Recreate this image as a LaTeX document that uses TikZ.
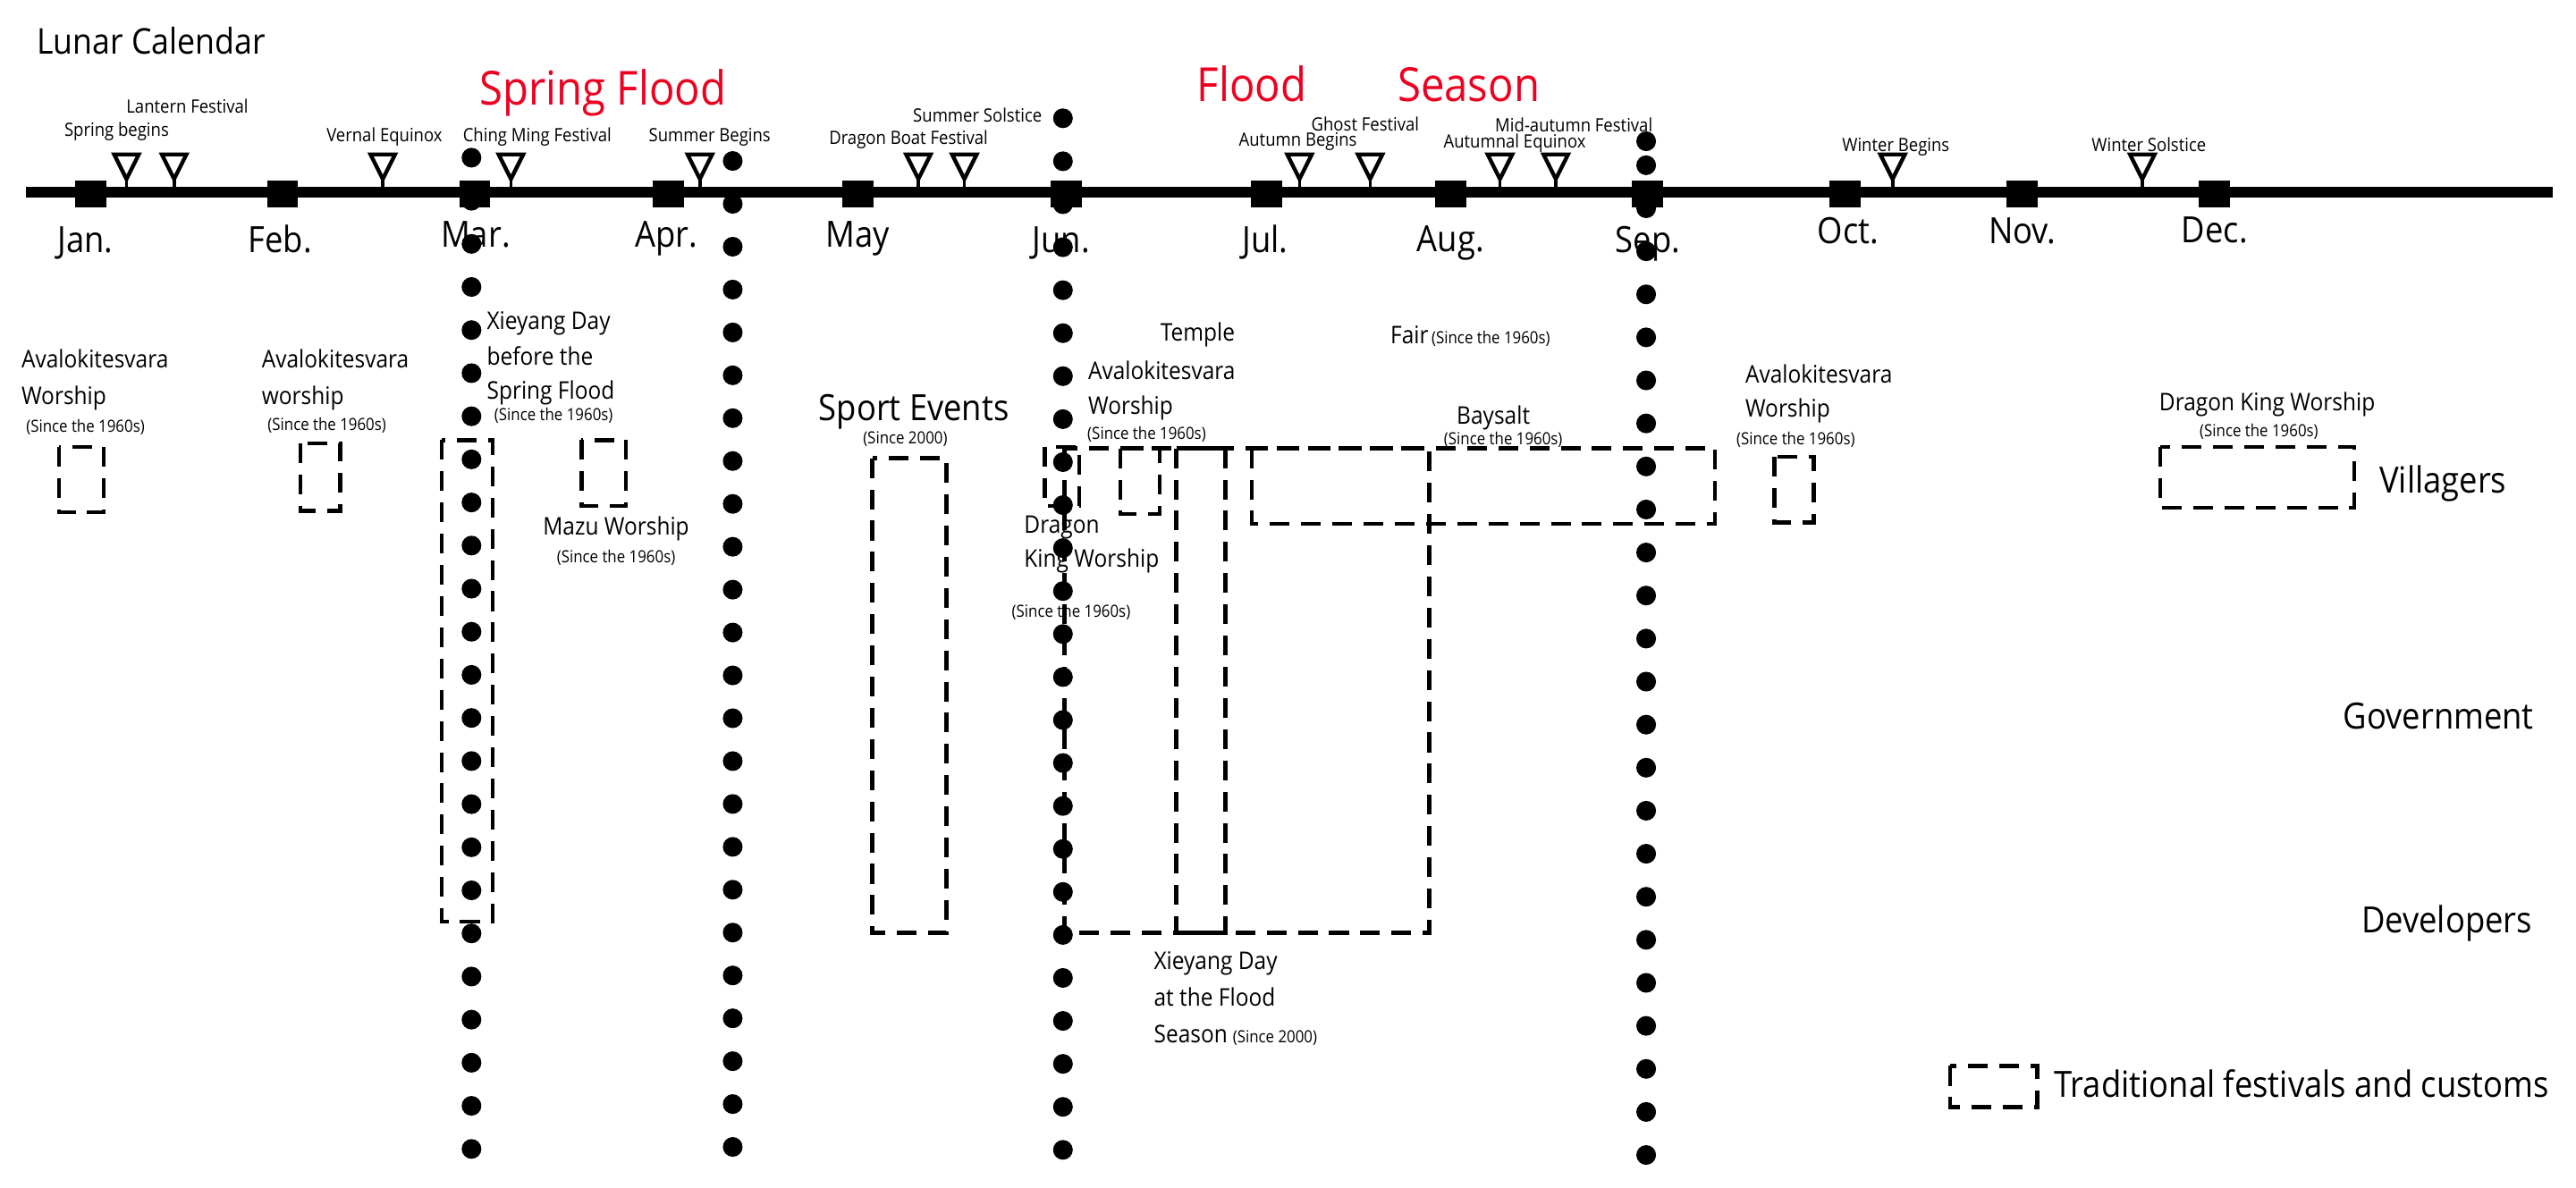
\documentclass[tikz,border=0pt]{standalone}
\usepackage{fontspec}
\setmainfont{Open Sans}[FakeStretch=0.9]
\definecolor{floodred}{RGB}{237,0,32}
\begin{document}
\begin{tikzpicture}[x=0.5pt,y=-0.5pt,
  dbox/.style={draw=black, line width=1.2pt, dash pattern=on 6pt off 3.5pt},
  tiny/.style={font=\fontsize{5.6}{6.5}\selectfont, inner sep=0pt, anchor=base},
  body/.style={font=\fontsize{7.4}{9}\selectfont, inner sep=0pt, anchor=base west},
  small/.style={font=\fontsize{5.1}{6}\selectfont, inner sep=0pt, anchor=base},
  big/.style={font=\fontsize{11}{13}\selectfont, inner sep=0pt, anchor=base west},
  month/.style={font=\fontsize{11}{13}\selectfont, inner sep=0pt, anchor=base},
  flood/.style={font=\fontsize{14.3}{16}\selectfont, text=floodred, inner sep=0pt, anchor=base}
]
\useasboundingbox (0,0) rectangle (1568,723);

% timeline
\draw[line width=3.2pt] (16,117) -- (1554,117);
\foreach \x in {55,172,289,407,522,649,771,883,1003,1123,1231,1348}
  \fill ({\x-9.5},110) rectangle ({\x+9.5},126);
\foreach \x in {77,106,233,311,426,559,587,791,834,913,947,1152,1304}{
  \draw[line width=1pt] (\x,108) -- (\x,114);
  \draw[line width=1.2pt, fill=white, line join=miter] ({\x-7.5},94) -- ({\x+7.5},94) -- (\x,109) -- cycle;
}

% title and seasons
\node[font=\fontsize{10.8}{13}\selectfont, inner sep=0pt, anchor=base west] (title) at (22,32.7) {Lunar Calendar};
\node[flood] (sf) at (367,64) {Spring Flood};
\node[flood] (fl) at (762,61.5) {Flood};
\node[flood] (se) at (894,61.5) {Season};

% solar terms and festivals
\node[tiny] (t1) at (71,83) {Spring begins};
\node[tiny] (t2) at (114,69) {Lantern Festival};
\node[tiny] (t3) at (234,86.5) {Vernal Equinox};
\node[tiny] (t4) at (327,86.5) {Ching Ming Festival};
\node[tiny] (t5) at (432,86.5) {Summer Begins};
\node[tiny] (t6) at (553,88) {Dragon Boat Festival};
\node[tiny] (t7) at (595,74.4) {Summer Solstice};
\node[tiny] (t8) at (790,89) {Autumn Begins};
\node[tiny] (t9) at (831,80) {Ghost Festival};
\node[tiny] (t10) at (922,90) {Autumnal Equinox};
\node[tiny] (t11) at (958,80.5) {Mid-autumn Festival};
\node[tiny] (t12) at (1154,92) {Winter Begins};
\node[tiny] (t13) at (1308,92.5) {Winter Solstice};

% months
\node[month] (m1) at (52,154) {Jan.};
\node[month] (m2) at (170.5,154) {Feb.};
\node[month] (m3) at (289.5,150.5) {Mar.};
\node[month] (m4) at (405.6,150.5) {Apr.};
\node[month] (m5) at (522,150.5) {May};
\node[month] (m6) at (646,153.5) {Jun.};
\node[month] (m7) at (770,153.5) {Jul.};
\node[month] (m8) at (883,153) {Aug.};
\node[month] (m9) at (1003,154) {Sep.};
\node[month] (m10) at (1125,148.5) {Oct.};
\node[month] (m11) at (1231,148.5) {Nov.};
\node[month] (m12) at (1348,148) {Dec.};

% dashed boxes
\draw[dbox] (36,272) rectangle (63,312);
\draw[dbox] (183,270) rectangle (207,311);
\draw[dbox] (269,268) rectangle (300,561);
\draw[dbox] (354,268) rectangle (381,308);
\draw[dbox] (531,279) rectangle (576,568);
\draw[dbox] (636,272) rectangle (657,308);
\draw[dbox] (682,273) rectangle (706,313);
\draw[dbox] (716,273) rectangle (746,568);
\draw[dbox] (648,273) rectangle (870,568);
\draw[dbox] (762,273) rectangle (1044,319);
\draw[dbox] (1080,278) rectangle (1104,318);
\draw[dbox] (1315,272) rectangle (1433,309);
\draw[dbox] (1187,649) rectangle (1240,674);

% event labels
\node[body] (a1) at (12.7,224) {Avalokitesvara};
\node[body] (a1b) at (12.7,246.5) {Worship};
\node[small] (a1c) at (52,263) {(Since the 1960s)};
\node[body] (a2) at (159,224) {Avalokitesvara};
\node[body] (a2b) at (159,246.5) {worship};
\node[small] (a2c) at (199,262) {(Since the 1960s)};
\node[body] (x1) at (296,200.5) {Xieyang Day};
\node[body] (x1b) at (296,222.5) {before the};
\node[body] (x1c) at (296,243) {Spring Flood};
\node[small] (x1d) at (337,256) {(Since the 1960s)};
\node[body, anchor=base] (mz) at (375,326) {Mazu Worship};
\node[small] (mzb) at (375,342.5) {(Since the 1960s)};
\node[big] (sp) at (498,256) {Sport Events};
\node[small] (spb) at (551,270) {(Since 2000)};
\node[body, anchor=base] (tp) at (729,207.5) {Temple};
\node[body] (tpb) at (662,231) {Avalokitesvara};
\node[body] (tpc) at (662,252.5) {Worship};
\node[small] (tpd) at (698,267.5) {(Since the 1960s)};
\node[body] (dk) at (623,324.5) {Dragon};
\node[body] (dkb) at (623,345.5) {King Worship};
\node[small] (dkc) at (652,376) {(Since the 1960s)};
\node[body] (fa) at (846,209.5) {Fair};
\node[small, anchor=base west] (fab) at (871,209.5) {(Since the 1960s)};
\node[body, anchor=base] (bs) at (909,258) {Baysalt};
\node[small] (bsb) at (915,270.5) {(Since the 1960s)};
\node[body] (a3) at (1062,233) {Avalokitesvara};
\node[body] (a3b) at (1062,254) {Worship};
\node[small] (a3c) at (1093,271) {(Since the 1960s)};
\node[body, anchor=base] (dw) at (1380,250) {Dragon King Worship};
\node[small] (dwb) at (1375,266) {(Since the 1960s)};
\node[body] (x2) at (702,590) {Xieyang Day};
\node[body] (x2b) at (702,612.5) {at the Flood};
\node[body] (x2c) at (702,635) {Season};
\node[small, anchor=base west] (x2d) at (750,635) {(Since 2000)};

% stakeholders and legend
\node[big] (vi) at (1448,300) {Villagers};
\node[big] (go) at (1426,444) {Government};
\node[big] (de) at (1437,568) {Developers};
\node[big] (lg) at (1250,668) {Traditional festivals and customs};

% dotted season boundaries
\foreach \k in {0,...,23} \fill (287,{96+26.24*\k}) circle (3pt);
\foreach \k in {0,...,23} \fill (446,{98+26.1*\k}) circle (3pt);
\foreach \k in {0,...,24} \fill (647,{72+26.17*\k}) circle (3pt);
\fill (1002,86) circle (3pt);
\foreach \k in {0,...,23} \fill (1002,{100.6+26.2*\k}) circle (3pt);
\end{tikzpicture}
\end{document}
